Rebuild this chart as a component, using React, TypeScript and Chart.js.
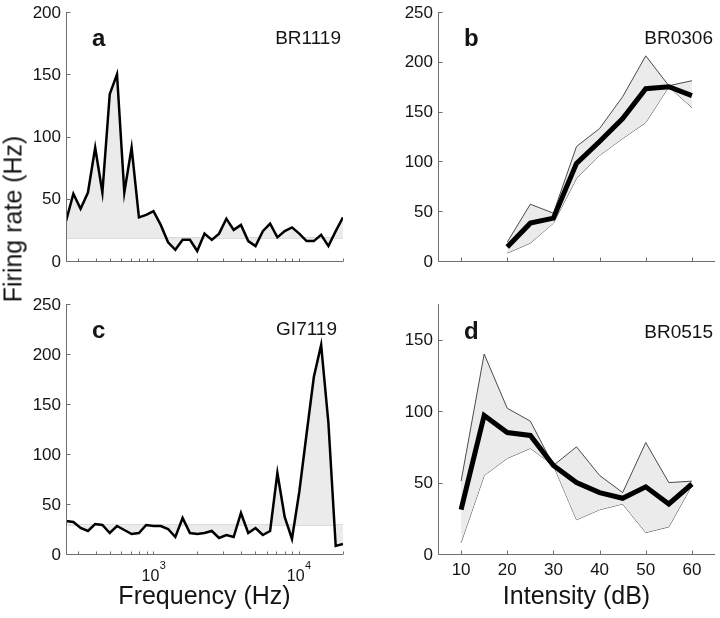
import React, { useEffect, useRef } from "react";
import { Chart, registerables } from "chart.js";

Chart.register(...registerables);

// ---------- data ----------
const FREQ_HZ = [
  250, 281, 315, 354, 397, 445, 500, 561, 630, 707, 794, 891, 1000, 1122, 1260, 1414, 1587, 1782, 2000,
  2245, 2520, 2828, 3175, 3564, 4000, 4490, 5040, 5657, 6350, 7127, 8000, 8980, 10079, 11314, 12699,
  14254, 16000, 17959, 20159,
];
const RATE_A = [
  32, 54, 42, 55, 91, 55, 134, 150, 55, 91, 35, 37, 40, 29, 15, 9, 17, 17, 8, 22, 17, 22, 34, 25, 29, 16,
  12, 24, 30, 19, 24, 27, 22, 16, 16, 21, 12, 24, 35,
];
const BASELINE_A = 18.5;
const RATE_C = [
  33, 32, 26, 23, 30, 29, 21, 28, 24, 20, 21, 29, 28, 28, 25, 17, 36, 21, 20, 21, 23, 16, 19, 17, 41, 21,
  26, 19, 23, 81, 37, 15, 62, 120, 177, 209, 131, 8, 10,
];
const BASELINE_C = 29;

const INTENSITY_B = [20, 25, 30, 35, 40, 45, 50, 55, 60];
const MEAN_B = [14, 38, 43, 98, 120, 143, 173, 175, 166];
const UPPER_B = [19, 57, 48, 115, 133, 165, 206, 176, 181];
const LOWER_B = [8, 18, 38, 83, 106, 123, 139, 175, 154];

const INTENSITY_D = [10, 15, 20, 25, 30, 35, 40, 45, 50, 55, 60];
const MEAN_D = [31, 97, 85, 83, 62, 50, 43, 39, 47, 35, 49];
const UPPER_D = [51, 140, 102, 93, 62, 75, 55, 43, 78, 50, 51];
const LOWER_D = [8, 55, 67, 74, 62, 24, 31, 35, 15, 19, 48];

const FREQ_TICKS = [300, 400, 500, 600, 700, 800, 900, 1000, 2000, 3000, 4000, 5000, 6000, 7000, 8000, 9000, 10000, 20000];
const FREQ_LABEL_TICKS = [1000, 10000];
const FREQ_LABEL_EXPONENTS = ["3", "4"];
const DB_TICKS = [10, 20, 30, 40, 50, 60];
const Y_TICKS_A = [0, 50, 100, 150, 200];
const Y_TICKS_B = [0, 50, 100, 150, 200, 250];
const Y_TICKS_C = [0, 50, 100, 150, 200, 250];
const Y_TICKS_D = [0, 50, 100, 150];

// ---------- style ----------
const AXIS_COLOR = "#6e6e6e";
const TEXT_COLOR = "#141414";
const FILL_COLOR = "#ebebeb";
const BOUND_COLOR = "#4a4a4a";
const TICK_FONT = "17px 'Liberation Sans', Arial, sans-serif";
const ID_FONT = "19px 'Liberation Sans', Arial, sans-serif";
const LETTER_FONT = "bold 24px 'Liberation Sans', Arial, sans-serif";
const TITLE_FONT = "25px 'Liberation Sans', Arial, sans-serif";
const POW_FONT = "16px 'Liberation Sans', Arial, sans-serif";
const EXP_FONT = "11px 'Liberation Sans', Arial, sans-serif";

type Spec = {
  letter: string;
  id: string;
  idRight: number;
  idBase: number;
  letterBase: number;
  xTicks: number[];
  xTickLen: number;
  yTicks: number[];
  xLabels?: "db" | "pow";
  xTitle?: string;
};

function makeFramePlugin(spec: Spec) {
  return {
    id: "frame",
    afterDatasetsDraw(chart: any) {
      const { ctx, chartArea } = chart;
      const { left, right, top, bottom } = chartArea;
      const xs = chart.scales.x;
      const ys = chart.scales.y;
      ctx.save();
      ctx.strokeStyle = AXIS_COLOR;
      ctx.lineWidth = 1;
      const L = Math.round(left) + 0.5;
      const B = Math.round(bottom) + 0.5;
      ctx.beginPath();
      ctx.moveTo(L, top);
      ctx.lineTo(L, B);
      ctx.lineTo(right, B);
      ctx.stroke();
      ctx.beginPath();
      spec.xTicks.forEach((v) => {
        const x = Math.round(xs.getPixelForValue(v)) + 0.5;
        if (x > right + 1) return;
        ctx.moveTo(x, B);
        ctx.lineTo(x, B - spec.xTickLen);
      });
      spec.yTicks.forEach((v) => {
        const y = Math.round(ys.getPixelForValue(v)) + 0.5;
        ctx.moveTo(L, y);
        ctx.lineTo(L + 4, y);
      });
      ctx.stroke();

      ctx.fillStyle = TEXT_COLOR;
      ctx.font = TICK_FONT;
      ctx.textAlign = "right";
      ctx.textBaseline = "middle";
      spec.yTicks.forEach((v) => {
        ctx.fillText(String(v), left - 5, ys.getPixelForValue(v) + 1);
      });

      if (spec.xLabels === "db") {
        ctx.textAlign = "center";
        ctx.textBaseline = "alphabetic";
        DB_TICKS.forEach((v) => {
          ctx.fillText(String(v), xs.getPixelForValue(v), bottom + 21);
        });
      } else if (spec.xLabels === "pow") {
        ctx.textBaseline = "alphabetic";
        ctx.textAlign = "left";
        FREQ_LABEL_TICKS.forEach((v, i) => {
          ctx.font = POW_FONT;
          const w1 = ctx.measureText("10").width;
          ctx.font = EXP_FONT;
          const w2 = ctx.measureText(FREQ_LABEL_EXPONENTS[i]).width;
          const x0 = xs.getPixelForValue(v) - (w1 + w2) / 2;
          ctx.font = POW_FONT;
          ctx.fillText("10", x0, bottom + 27);
          ctx.font = EXP_FONT;
          ctx.fillText(FREQ_LABEL_EXPONENTS[i], x0 + w1 + 0.5, bottom + 15);
        });
      }

      if (spec.xTitle) {
        ctx.font = TITLE_FONT;
        ctx.textAlign = "center";
        ctx.textBaseline = "alphabetic";
        ctx.fillText(spec.xTitle, (left + right) / 2, bottom + 50);
      }

      ctx.font = LETTER_FONT;
      ctx.textAlign = "left";
      ctx.textBaseline = "alphabetic";
      ctx.fillText(spec.letter, left + 26, top + spec.letterBase);
      ctx.font = ID_FONT;
      ctx.textAlign = "right";
      ctx.fillText(spec.id, right - spec.idRight, top + spec.idBase);
      ctx.restore();
    },
  };
}

function freqConfig(rates: number[], baseline: number, yMax: number, spec: Spec, padTop: number, xHeight: number) {
  return {
    type: "line",
    data: {
      datasets: [
        {
          data: FREQ_HZ.map((f, i) => ({ x: f, y: rates[i] })),
          borderColor: "#000",
          borderWidth: 2.5,
          pointRadius: 0,
          tension: 0,
          fill: { value: baseline },
          backgroundColor: FILL_COLOR,
        },
        {
          data: [
            { x: FREQ_HZ[0], y: baseline },
            { x: FREQ_HZ[FREQ_HZ.length - 1], y: baseline },
          ],
          borderColor: "#b8b8b8",
          borderWidth: 1,
          pointRadius: 0,
          fill: false,
        },
      ],
    },
    options: {
      animation: false,
      responsive: false,
      events: [],
      layout: { padding: { left: 0, top: padTop, right: 17, bottom: 0 } },
      plugins: { legend: { display: false }, tooltip: { enabled: false } },
      scales: {
        x: {
          type: "logarithmic",
          min: FREQ_HZ[0],
          max: FREQ_HZ[FREQ_HZ.length - 1],
          ticks: { display: false },
          grid: { display: false },
          border: { display: false },
          afterFit: (s: any) => {
            s.height = xHeight;
          },
        },
        y: {
          type: "linear",
          min: 0,
          max: yMax,
          bounds: "data",
          ticks: { display: false },
          grid: { display: false },
          border: { display: false },
          afterFit: (s: any) => {
            s.width = 66;
          },
        },
      },
    },
    plugins: [makeFramePlugin(spec)],
  };
}

function intensityConfig(
  xs: number[],
  mean: number[],
  upper: number[],
  lower: number[],
  yMax: number,
  spec: Spec,
  padTop: number,
  xHeight: number
) {
  const pts = (arr: number[]) => xs.map((x, i) => ({ x, y: arr[i] }));
  return {
    type: "line",
    data: {
      datasets: [
        { data: pts(mean), borderColor: "#000", borderWidth: 5, pointRadius: 0, tension: 0, fill: false },
        {
          data: pts(upper),
          borderColor: BOUND_COLOR,
          borderWidth: 1,
          pointRadius: 0,
          tension: 0,
          fill: "+1",
          backgroundColor: FILL_COLOR,
        },
        { data: pts(lower), borderColor: BOUND_COLOR, borderWidth: 1, pointRadius: 0, tension: 0, fill: false },
      ],
    },
    options: {
      animation: false,
      responsive: false,
      events: [],
      layout: { padding: { left: 0, top: padTop, right: 5, bottom: 0 } },
      plugins: { legend: { display: false }, tooltip: { enabled: false } },
      scales: {
        x: {
          type: "linear",
          min: 5,
          max: 65,
          bounds: "data",
          ticks: { display: false },
          grid: { display: false },
          border: { display: false },
          afterFit: (s: any) => {
            s.height = xHeight;
          },
        },
        y: {
          type: "linear",
          min: 0,
          max: yMax,
          bounds: "data",
          ticks: { display: false },
          grid: { display: false },
          border: { display: false },
          afterFit: (s: any) => {
            s.width = 78;
          },
        },
      },
    },
    plugins: [makeFramePlugin(spec)],
  };
}

function Panel({ left, top, width, height, make }: any) {
  const ref = useRef<HTMLCanvasElement>(null);
  useEffect(() => {
    const chart = new Chart(ref.current as HTMLCanvasElement, make());
    return () => chart.destroy();
  }, []);
  return (
    <div style={{ position: "absolute", left, top, width, height }}>
      <canvas ref={ref} width={width} height={height} style={{ display: "block", width, height }} />
    </div>
  );
}

export default function App() {
  const specA: Spec = {
    letter: "a", id: "BR1119", idRight: 2, idBase: 32, letterBase: 34,
    xTicks: FREQ_TICKS, xTickLen: 3, yTicks: Y_TICKS_A,
  };
  const specB: Spec = {
    letter: "b", id: "BR0306", idRight: 2, idBase: 32, letterBase: 34,
    xTicks: DB_TICKS, xTickLen: 4, yTicks: Y_TICKS_B,
  };
  const specC: Spec = {
    letter: "c", id: "GI7119", idRight: 6, idBase: 31, letterBase: 34,
    xTicks: FREQ_TICKS, xTickLen: 3, yTicks: Y_TICKS_C, xLabels: "pow", xTitle: "Frequency (Hz)",
  };
  const specD: Spec = {
    letter: "d", id: "BR0515", idRight: 2, idBase: 34, letterBase: 35,
    xTicks: DB_TICKS, xTickLen: 4, yTicks: Y_TICKS_D, xLabels: "db", xTitle: "Intensity (dB)",
  };
  return (
    <div style={{ position: "absolute", left: 0, top: 0, width: 720, height: 618, background: "#fff", overflow: "hidden" }}>
      <Panel left={0} top={0} width={360} height={285} make={() => freqConfig(RATE_A, BASELINE_A, 200, specA, 12, 24)} />
      <Panel left={360} top={0} width={360} height={285}
        make={() => intensityConfig(INTENSITY_B, MEAN_B, UPPER_B, LOWER_B, 250, specB, 12, 24)} />
      <Panel left={0} top={285} width={360} height={333} make={() => freqConfig(RATE_C, BASELINE_C, 250, specC, 19, 64)} />
      <Panel left={360} top={285} width={360} height={333}
        make={() => intensityConfig(INTENSITY_D, MEAN_D, UPPER_D, LOWER_D, 175, specD, 19, 64)} />
      <div
        style={{
          position: "absolute",
          left: 13,
          top: 219,
          transform: "translate(-50%, -50%) rotate(-90deg)",
          whiteSpace: "nowrap",
          font: "25px 'Liberation Sans', Arial, sans-serif",
          color: TEXT_COLOR,
        }}
      >
        Firing rate (Hz)
      </div>
    </div>
  );
}
